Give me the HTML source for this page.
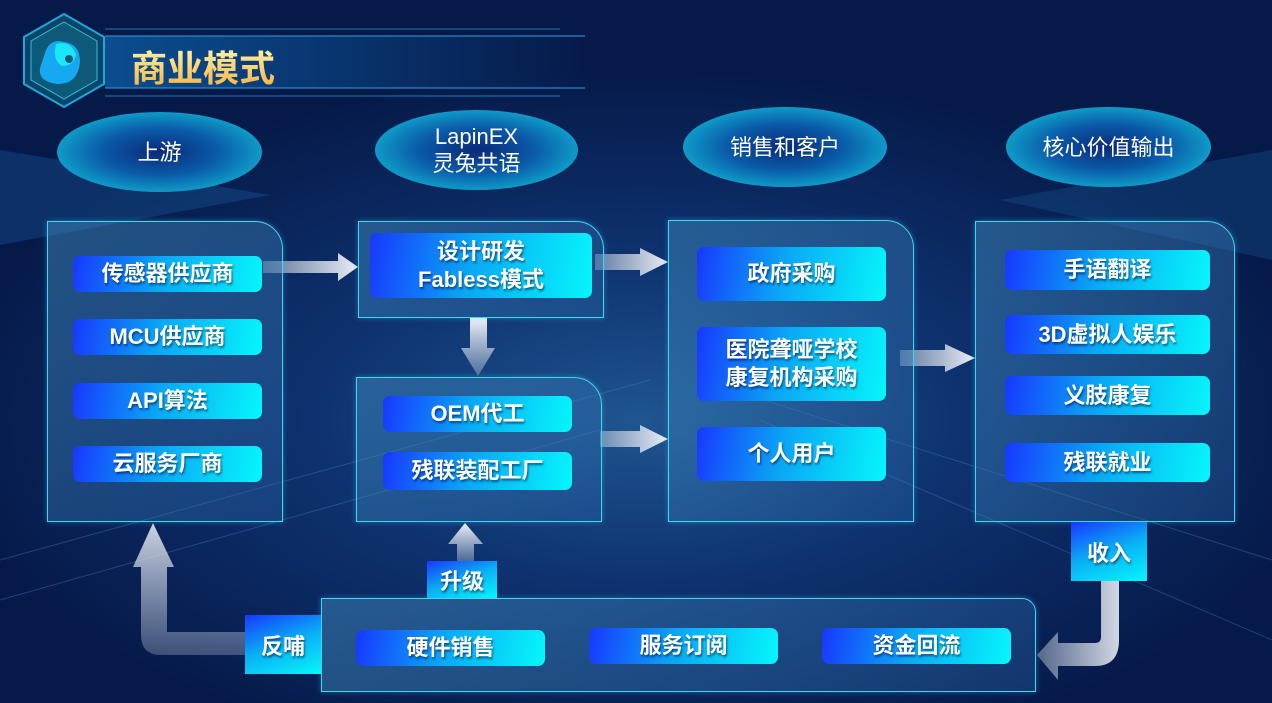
<!DOCTYPE html>
<html><head><meta charset="utf-8"><style>
*{margin:0;padding:0;box-sizing:border-box}
body{width:1272px;height:703px;overflow:hidden;font-family:"Liberation Sans","Noto Sans CJK SC",sans-serif;background:radial-gradient(ellipse 700px 350px at 640px 420px,#1f5590 0%,#0e3370 45%,#061a4a 100%);position:relative}
.abs{position:absolute}
.ell{position:absolute;border-radius:50%;background:radial-gradient(ellipse at center,#0a2a78 0%,#0a5aa8 40%,#12d8e6 100%);color:#fff;font-size:22px;display:flex;align-items:center;justify-content:center;text-align:center;line-height:27px}
.pan{position:absolute;border:1.5px solid #3fd6f0;border-top-right-radius:28px;background:linear-gradient(135deg,rgba(70,150,200,.45),rgba(40,100,170,.35));box-shadow:0 0 6px rgba(60,200,255,.4)}
.it{position:absolute;border-radius:7px;background:linear-gradient(100deg,#1838ff 0%,#0aa6f5 45%,#06f6fb 100%);color:#fff;font-weight:bold;font-size:22px;display:flex;align-items:center;justify-content:center;text-align:center;line-height:28px;text-shadow:1px 2px 2px rgba(0,0,40,.55)}
.tag{position:absolute;background:linear-gradient(160deg,#1838ff 0%,#0ab0f5 50%,#06f6fb 100%);color:#fff;font-weight:bold;font-size:22px;display:flex;align-items:center;justify-content:center;text-shadow:1px 2px 2px rgba(0,0,40,.55)}
</style></head><body>
<svg class="abs" style="left:0;top:0" width="1272" height="703">
<defs>
<linearGradient id="ah" x1="0" x2="1"><stop offset="0" stop-color="#dfe6f0" stop-opacity=".4"/><stop offset="1" stop-color="#e8edf5"/></linearGradient>
<linearGradient id="av" x1="0" y1="1" x2="0" y2="0"><stop offset="0" stop-color="#c0cce0" stop-opacity=".35"/><stop offset="1" stop-color="#eef2f8"/></linearGradient>
<linearGradient id="ttl" x1="0" y1="0" x2="0" y2="1"><stop offset="0" stop-color="#fff2a8"/><stop offset="1" stop-color="#f6b23e"/></linearGradient>
<linearGradient id="bar" x1="0" x2="1"><stop offset="0" stop-color="#0b4d90"/><stop offset="1" stop-color="#0b4d90" stop-opacity="0"/></linearGradient>
</defs>
<polygon points="0,150 270,195 0,245" fill="#1a5fa0" opacity=".35"/>
<polygon points="1272,150 1000,200 1272,260" fill="#1a5fa0" opacity=".3"/>
<g stroke="#4d8ac8" stroke-width="1" opacity=".35"><line x1="0" y1="560" x2="650" y2="380"/><line x1="0" y1="600" x2="600" y2="430"/><line x1="1272" y1="560" x2="700" y2="380"/><line x1="1272" y1="640" x2="760" y2="420"/></g>
<rect x="105" y="36" width="480" height="52" fill="url(#bar)"/>
<line x1="105" y1="29" x2="560" y2="29" stroke="#2aa0e0" stroke-width="1" opacity=".7"/>
<line x1="105" y1="96" x2="560" y2="96" stroke="#2aa0e0" stroke-width="1" opacity=".7"/>
<line x1="105" y1="36" x2="585" y2="36" stroke="#2aa0e0" stroke-width="1"/>
<line x1="105" y1="88" x2="585" y2="88" stroke="#2aa0e0" stroke-width="1"/>
<polygon points="64,14 104,37 104,84 64,107 24,84 24,37" fill="#0a4468" stroke="#1aa8d8" stroke-width="2"/>
<polygon points="64,22 97,41 97,80 64,99 31,80 31,41" fill="#0d5a78" stroke="#2bc0e0" stroke-width="1"/>
<path d="M46,50 Q52,38 64,42 Q80,44 80,62 Q78,84 58,84 Q38,82 40,68 Z" fill="#16a8f0"/>
<path d="M56,44 Q70,40 76,54 Q74,66 62,66 Q52,60 56,44Z" fill="#18e8f8"/>
<circle cx="69" cy="59" r="4" fill="#0a5a78"/>
<text x="131" y="81" font-size="36" font-weight="bold" fill="url(#ttl)" font-family="Liberation Sans,Noto Sans CJK SC,sans-serif">商业模式</text>
<polygon points="263,261 338,261 338,253 358,267 338,281 338,273 263,273" fill="url(#ah)"/>
<polygon points="595,254 640,254 640,248 668,262 640,276 640,270 595,270" fill="url(#ah)"/>
<polygon points="600,431 640,431 640,425 668,439 640,453 640,447 600,447" fill="url(#ah)"/>
<polygon points="900,350 945,350 945,344 975,358 945,372 945,366 900,366" fill="url(#ah)"/>
<polygon points="470,318 487,318 487,348 495,348 478,376 461,348 470,348" fill="url(#av)"/>
<polygon points="457,562 474,562 474,544 483,544 465,523 448,544 457,544" fill="url(#av)"/>
<path d="M245,632 L167,632 L167,567 L174,567 L153,523 L133,567 L141,567 L141,635 Q141,655 161,655 L245,655 Z" fill="url(#av)" opacity=".85"/>
<path d="M1101,581 L1119,581 L1119,640 Q1119,666 1095,666 L1058,666 L1058,680 L1037,655 L1058,632 L1058,643 L1095,643 Q1101,643 1101,637 Z" fill="url(#ah)" opacity=".9"/>
</svg>
<div class="ell" style="left:57px;top:112px;width:205px;height:80px">上游</div>
<div class="ell" style="left:375px;top:110px;width:203px;height:80px">LapinEX<br>灵兔共语</div>
<div class="ell" style="left:683px;top:107px;width:204px;height:80px">销售和客户</div>
<div class="ell" style="left:1006px;top:107px;width:205px;height:80px">核心价值输出</div>

<div class="pan" style="left:47px;top:221px;width:236px;height:301px"></div>
<div class="it" style="left:73px;top:256px;width:189px;height:36px">传感器供应商</div>
<div class="it" style="left:73px;top:319px;width:189px;height:36px">MCU供应商</div>
<div class="it" style="left:73px;top:383px;width:189px;height:36px">API算法</div>
<div class="it" style="left:73px;top:446px;width:189px;height:36px">云服务厂商</div>

<div class="pan" style="left:358px;top:221px;width:246px;height:97px"></div>
<div class="it" style="left:370px;top:233px;width:222px;height:65px">设计研发<br>Fabless模式</div>
<div class="pan" style="left:356px;top:377px;width:246px;height:145px"></div>
<div class="it" style="left:383px;top:396px;width:189px;height:36px">OEM代工</div>
<div class="it" style="left:383px;top:452px;width:189px;height:38px">残联装配工厂</div>

<div class="pan" style="left:668px;top:220px;width:246px;height:302px"></div>
<div class="it" style="left:697px;top:247px;width:189px;height:54px">政府采购</div>
<div class="it" style="left:697px;top:327px;width:189px;height:74px">医院聋哑学校<br>康复机构采购</div>
<div class="it" style="left:697px;top:427px;width:189px;height:54px">个人用户</div>

<div class="pan" style="left:975px;top:221px;width:260px;height:301px"></div>
<div class="it" style="left:1005px;top:250px;width:205px;height:40px">手语翻译</div>
<div class="it" style="left:1005px;top:315px;width:205px;height:39px">3D虚拟人娱乐</div>
<div class="it" style="left:1005px;top:376px;width:205px;height:39px">义肢康复</div>
<div class="it" style="left:1005px;top:443px;width:205px;height:39px">残联就业</div>

<div class="pan" style="left:321px;top:598px;width:715px;height:94px;border-top-right-radius:14px"></div>
<div class="it" style="left:356px;top:630px;width:189px;height:36px">硬件销售</div>
<div class="it" style="left:589px;top:628px;width:189px;height:36px">服务订阅</div>
<div class="it" style="left:822px;top:628px;width:189px;height:36px">资金回流</div>

<div class="tag" style="left:1071px;top:522px;width:76px;height:59px">收入</div>
<div class="tag" style="left:427px;top:561px;width:70px;height:37px">升级</div>
<div class="tag" style="left:245px;top:615px;width:76px;height:59px">反哺</div>
</body></html>
